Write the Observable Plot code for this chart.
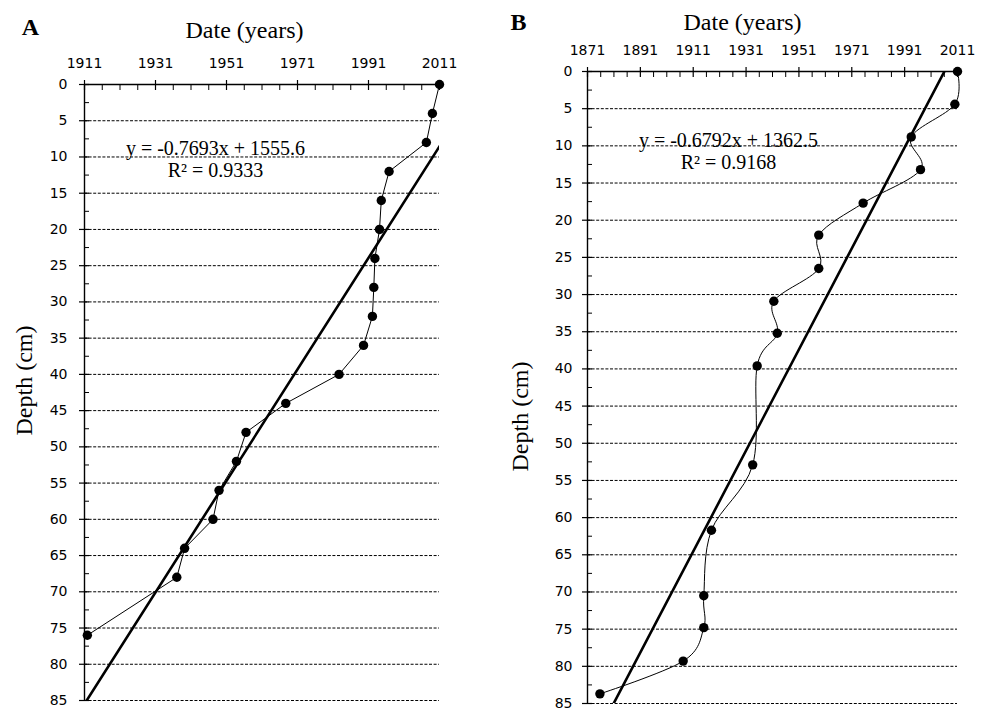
<!DOCTYPE html>
<html><head><meta charset="utf-8">
<script src="https://cdn.jsdelivr.net/npm/d3@7"></script>
<script src="https://cdn.jsdelivr.net/npm/@observablehq/plot@0.6"></script>
<style>
html,body{margin:0;padding:0;background:#fff;}
#wrap{position:relative;width:988px;height:714px;overflow:hidden;background:#fff;}
#wrap > svg{position:absolute;top:0;}
</style></head><body><div id="wrap"></div>
<script>
// Panel A data (year vs depth)
const yearsA  = [2011, 2009, 2007.3, 1996.8, 1994.6, 1994.1, 1992.8, 1992.5, 1992.1, 1989.6, 1982.7, 1967.7, 1956.5, 1953.8, 1948.9, 1947.2, 1939.2, 1937, 1911.8];
const depthsA = [0, 4, 8, 12, 16, 20, 24, 28, 32, 36, 40, 44, 48, 52, 56, 60, 64, 68, 76];
// Panel B data
const yearsB  = [2011, 2010, 1993.5, 1997, 1975.3, 1958.5, 1958.5, 1941.5, 1942.8, 1935.2, 1933.5, 1917.9, 1915, 1915, 1907.2, 1875.7];
const depthsB = [0, 4.4, 8.8, 13.2, 17.7, 22, 26.5, 30.9, 35.2, 39.6, 52.9, 61.7, 70.5, 74.8, 79.3, 83.7];
// Axis ticks
const xTicksA = [1911, 1931, 1951, 1971, 1991, 2011];
const xTicksB = [1871, 1891, 1911, 1931, 1951, 1971, 1991, 2011];
const depthTicks = [0, 5, 10, 15, 20, 25, 30, 35, 40, 45, 50, 55, 60, 65, 70, 75, 80, 85];
const gridDepths = [5, 10, 15, 20, 25, 30, 35, 40, 45, 50, 55, 60, 65, 70, 75, 80, 85];
// Trend lines (as printed on the chart)
const slopeA = -0.7693, interceptA = 1555.6;
const slopeB = -0.6792, interceptB = 1362.5;
const equationA = "y = -0.7693x + 1555.6\nR² = 0.9333";
const equationB = "y = -0.6792x + 1362.5\nR² = 0.9168";
const xLabel = "Date (years)";
const yLabel = "Depth (cm)";

const serif = "'Liberation Serif','Times New Roman',serif";
const sans = "'DejaVu Sans', sans-serif";

function panel(o) {
  const data = o.years.map((year, i) => ({year, depth: o.depths[i]}));
  const trend = o.xDomain.map(year => ({year, depth: o.slope * year + o.intercept}));
  const minorX = d3.range(o.xDomain[0], o.xDomain[1] + 0.1, 5).filter(v => !o.xTicks.includes(v));
  const minorY = d3.range(2.5, 85, 5);
  const fx = (o.ml + (o.width - o.mr)) / 2;
  const fy = (o.mt + (714 - o.mb)) / 2;
  const txt = {textAnchor: "middle", lineAnchor: "middle", fill: "black", fontFamily: serif};
  return Plot.plot({
    width: o.width, height: 714,
    marginLeft: o.ml, marginRight: o.mr, marginTop: o.mt, marginBottom: o.mb,
    x: {domain: o.xDomain, label: null},
    y: {domain: [0, 85], reverse: true, label: null},
    style: {fontFamily: sans, fontSize: "14px", background: "white", color: "black", overflow: "visible"},
    marks: [
      Plot.ruleY(gridDepths, {stroke: "black", strokeDasharray: "3,1.6", strokeWidth: 1}),
      Plot.ruleY([0], {stroke: "black", strokeWidth: 1.4}),
      Plot.ruleX([o.xDomain[0]], {stroke: "black", strokeWidth: 1.4}),
      Plot.axisX({anchor: "top", ticks: o.xTicks, tickSize: 0, tickPadding: 17, tickFormat: d3.format("d"), label: null, fontSize: 14, fontFamily: sans}),
      Plot.axisX({anchor: "top", ticks: o.xTicks, tickSize: 10, dy: 5, tickFormat: () => "", label: null, strokeWidth: 1.2}),
      Plot.axisX({anchor: "top", ticks: minorX, tickSize: 5, dy: 5, tickFormat: () => "", label: null}),
      Plot.axisY({anchor: "left", ticks: depthTicks, tickSize: 0, tickPadding: o.yPad, tickFormat: d3.format("d"), label: null, fontSize: 14, fontFamily: sans}),
      Plot.axisY({anchor: "left", ticks: depthTicks, tickSize: 10, dx: 5, tickFormat: () => "", label: null, strokeWidth: 1.2}),
      Plot.axisY({anchor: "left", ticks: minorY, tickSize: 5, dx: 5, tickFormat: () => "", label: null}),
      Plot.line(trend, {x: "year", y: "depth", stroke: "black", strokeWidth: 2.6, clip: true}),
      Plot.line(data, {x: "year", y: "depth", stroke: "black", strokeWidth: 1, curve: o.curve}),
      Plot.dot(data, {x: "year", y: "depth", r: 4.7, fill: "black"}),
      Plot.text([o.letter], {...txt, frameAnchor: "top-left", dx: o.letterPos[0] - o.ml, dy: o.letterPos[1] - o.mt, fontWeight: "bold", fontSize: 24}),
      Plot.text([xLabel], {...txt, frameAnchor: "top", dx: o.xLabPos[0] - fx, dy: o.xLabPos[1] - o.mt, fontSize: 24}),
      Plot.text([yLabel], {...txt, frameAnchor: "left", dx: o.yLabPos[0] - o.ml, dy: o.yLabPos[1] - fy, rotate: -90, fontSize: 24}),
      Plot.text([o.equation], {...txt, frameAnchor: "top-left", dx: o.eqPos[0] - o.ml, dy: o.eqPos[1] - o.mt, fontSize: 20, lineHeight: 1.1})
    ]
  });
}

const wrap = document.getElementById("wrap");
const svgA = panel({
  years: yearsA, depths: depthsA, xDomain: [1911, 2011], xTicks: xTicksA,
  slope: slopeA, intercept: interceptA, equation: equationA, letter: "A",
  width: 480, ml: 84, mr: 41, mt: 84, mb: 14, yPad: 17,
  curve: "linear",
  letterPos: [30, 27], xLabPos: [244, 30], yLabPos: [24, 380], eqPos: [215, 158]
});
svgA.style.left = "0px";
wrap.appendChild(svgA);

const offB = 488;
const svgB = panel({
  years: yearsB, depths: depthsB, xDomain: [1871, 2011], xTicks: xTicksB,
  slope: slopeB, intercept: interceptB, equation: equationB, letter: "B",
  width: 500, ml: 99, mr: 31, mt: 71, mb: 11, yPad: 15,
  curve: d3.curveCardinal.tension(0),
  letterPos: [518 - offB, 22], xLabPos: [742 - offB, 22], yLabPos: [520 - offB, 416], eqPos: [728 - offB, 150]
});
svgB.style.left = offB + "px";
wrap.appendChild(svgB);
</script>
</body></html>
